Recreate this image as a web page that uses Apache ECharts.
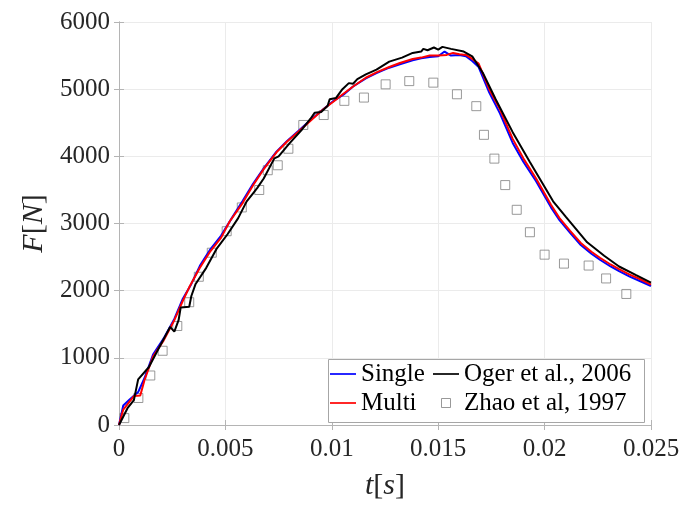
<!DOCTYPE html>
<html>
<head>
<meta charset="utf-8">
<script src="https://cdn.jsdelivr.net/npm/echarts@6/dist/echarts.min.js"></script>
<style>html,body{margin:0;padding:0;background:#fff}#c{width:688px;height:506px}</style>
</head>
<body>
<div id="c"></div>
<script>
var xTickLabels = ['0', '0.005', '0.01', '0.015', '0.02', '0.025'];
var yTickLabels = ['0', '1000', '2000', '3000', '4000', '5000', '6000'];

var singleT = [0, 0.0002, 0.0005, 0.0009, 0.0012, 0.0016, 0.0021, 0.0026, 0.003, 0.0034, 0.0038, 0.0043, 0.0048, 0.0053, 0.0058, 0.0063, 0.0068, 0.0074, 0.0079, 0.0084, 0.009, 0.0096, 0.0101, 0.0106, 0.011, 0.0116, 0.0121, 0.0127, 0.0132, 0.0138, 0.0142, 0.0146, 0.015, 0.0153, 0.0156, 0.016, 0.0163, 0.0166, 0.0169, 0.0174, 0.0179, 0.0185, 0.019, 0.0196, 0.0203, 0.0207, 0.0212, 0.0217, 0.0222, 0.0226, 0.0231, 0.0235, 0.024, 0.0245, 0.025];
var singleF = [0, 290, 380, 490, 700, 1050, 1290, 1580, 1880, 2100, 2370, 2620, 2820, 3080, 3330, 3590, 3820, 4070, 4230, 4370, 4540, 4700, 4830, 4930, 5040, 5160, 5240, 5320, 5370, 5430, 5460, 5480, 5490, 5560, 5500, 5510, 5490, 5420, 5330, 4950, 4640, 4200, 3920, 3630, 3240, 3050, 2860, 2680, 2550, 2460, 2360, 2290, 2210, 2140, 2070];

var multiT = [0, 0.0002, 0.0007, 0.001, 0.0012, 0.0016, 0.0021, 0.0026, 0.003, 0.0033, 0.0038, 0.0043, 0.0048, 0.0052, 0.0058, 0.0063, 0.0068, 0.0074, 0.0079, 0.0084, 0.009, 0.0096, 0.0101, 0.0105, 0.011, 0.0116, 0.0121, 0.0127, 0.0132, 0.0138, 0.0142, 0.0146, 0.015, 0.0154, 0.0157, 0.016, 0.0163, 0.0166, 0.0169, 0.0174, 0.0179, 0.0185, 0.019, 0.0196, 0.0203, 0.0207, 0.0212, 0.0217, 0.0222, 0.0226, 0.0231, 0.0235, 0.024, 0.0245, 0.025];
var multiF = [0, 230, 430, 440, 670, 1020, 1260, 1560, 1850, 2050, 2340, 2590, 2790, 3030, 3300, 3570, 3810, 4060, 4220, 4360, 4530, 4700, 4820, 4920, 5040, 5170, 5250, 5330, 5390, 5450, 5470, 5500, 5500, 5510, 5540, 5520, 5510, 5450, 5380, 5000, 4700, 4260, 3970, 3670, 3280, 3080, 2890, 2710, 2580, 2490, 2390, 2320, 2240, 2170, 2090];

var ogerT = [0, 0.0004, 0.0007, 0.0009, 0.0014, 0.0019, 0.0024, 0.0026, 0.0028, 0.0029, 0.0033, 0.0034, 0.0036, 0.0041, 0.0046, 0.0051, 0.0056, 0.006, 0.0063, 0.0065, 0.0068, 0.0073, 0.0075, 0.008, 0.0086, 0.009, 0.0092, 0.0095, 0.0098, 0.0099, 0.0102, 0.0105, 0.0108, 0.011, 0.0112, 0.0116, 0.0121, 0.0127, 0.0133, 0.0138, 0.0142, 0.0143, 0.0145, 0.0148, 0.015, 0.0152, 0.0156, 0.0162, 0.0166, 0.0171, 0.0177, 0.0185, 0.0193, 0.0204, 0.021, 0.022, 0.0228, 0.0235, 0.0243, 0.025];
var ogerF = [0, 250, 370, 680, 860, 1160, 1460, 1390, 1560, 1750, 1760, 1920, 2100, 2340, 2630, 2840, 3080, 3330, 3450, 3530, 3670, 3970, 4000, 4190, 4400, 4560, 4650, 4660, 4750, 4850, 4870, 5000, 5090, 5080, 5150, 5220, 5290, 5410, 5470, 5540, 5560, 5600, 5580, 5620, 5590, 5630, 5600, 5560, 5490, 5240, 4850, 4360, 3920, 3330, 3100, 2720, 2520, 2360, 2230, 2120];

var zhaoT = [0.00025, 0.00091, 0.00147, 0.00205, 0.00274, 0.0033, 0.00375, 0.00436, 0.00506, 0.00577, 0.00659, 0.00699, 0.00746, 0.00796, 0.00866, 0.00962, 0.01059, 0.01151, 0.01253, 0.01364, 0.01477, 0.01588, 0.01679, 0.01715, 0.01764, 0.01815, 0.01869, 0.01931, 0.02, 0.02091, 0.02207, 0.02289, 0.02384];
var zhaoF = [103, 402, 737, 1105, 1474, 1828, 2207, 2565, 2885, 3239, 3499, 3793, 3867, 4113, 4467, 4615, 4826, 4875, 5072, 5120, 5097, 4924, 4747, 4320, 3966, 3572, 3204, 2870, 2536, 2403, 2374, 2182, 1951];

function pairs(t, f) { return t.map(function (v, i) { return [v, f[i]]; }); }

var FONT = 'Liberation Serif';
var chart = echarts.init(document.getElementById('c'), null, { renderer: 'canvas' });
var axisCol = '#b4b4b4';
var legendText = { fontFamily: FONT, fontSize: 25, color: '#000', lineHeight: 28 };
var lineIcon = 'path://M0,0 L52,0 L52,3.4 L0,3.4 Z';
var squareIcon = 'path://M0,0 L10,0 L10,10 L0,10 Z';

chart.setOption({
  animation: false,
  backgroundColor: '#fff',
  grid: { left: 119, right: 37, top: 22, bottom: 77, containLabel: false },
  xAxis: [{
    type: 'value', min: 0, max: 0.025, interval: 0.005,
    name: '{i|t}{n|[}{i|s}{n|]}', nameLocation: 'middle', nameGap: 46,
    nameTextStyle: { rich: {
      i: { fontFamily: FONT, fontStyle: 'italic', fontSize: 30, color: '#262626' },
      n: { fontFamily: FONT, fontSize: 30, color: '#262626' } } },
    axisLine: { show: true, lineStyle: { color: axisCol, width: 1 } },
    axisTick: { show: true, inside: true, length: 5, lineStyle: { color: axisCol } },
    axisLabel: { margin: 12, fontFamily: FONT, fontSize: 25, color: '#262626',
      formatter: function (v) { return xTickLabels[Math.round(v / 0.005)]; } },
    splitLine: { show: true, lineStyle: { color: '#ebebeb', width: 1 } }
  }, {
    type: 'value', min: 0, max: 0.025, interval: 0.005, position: 'top',
    axisLine: { show: true, lineStyle: { color: axisCol, width: 1 } },
    axisTick: { show: true, inside: true, length: 5, lineStyle: { color: axisCol } },
    axisLabel: { show: false }, splitLine: { show: false }
  }],
  yAxis: [{
    type: 'value', min: 0, max: 6000, interval: 1000,
    name: '{i|F}{n|[}{i|N}{n|]}', nameLocation: 'middle', nameGap: 66,
    nameTextStyle: { rich: {
      i: { fontFamily: FONT, fontStyle: 'italic', fontSize: 30, color: '#262626' },
      n: { fontFamily: FONT, fontSize: 30, color: '#262626' } } },
    axisLine: { show: true, lineStyle: { color: axisCol, width: 1 } },
    axisTick: { show: true, inside: true, length: 5, lineStyle: { color: axisCol } },
    axisLabel: { margin: 9, fontFamily: FONT, fontSize: 25, color: '#262626',
      padding: [0, 0, 4, 0],
      formatter: function (v) { return yTickLabels[Math.round(v / 1000)]; } },
    splitLine: { show: true, lineStyle: { color: '#ebebeb', width: 1 } }
  }, {
    type: 'value', min: 0, max: 6000, interval: 1000, position: 'right',
    axisLine: { show: true, lineStyle: { color: axisCol, width: 1 } },
    axisTick: { show: true, inside: true, length: 5, lineStyle: { color: axisCol } },
    axisLabel: { show: false }, splitLine: { show: false }
  }],
  graphic: [{
    type: 'rect', left: 328, top: 359, z: 5,
    shape: { width: 316, height: 63 },
    style: { fill: '#fff', stroke: '#a6a6a6', lineWidth: 1 }
  }],
  legend: [{
    orient: 'vertical', left: 330, top: 360, padding: 0, itemGap: 1,
    itemWidth: 26, itemHeight: 10, itemTextGap: 2, z: 10,
    textStyle: legendText,
    data: [{ name: 'Single', icon: lineIcon }, { name: 'Multi', icon: lineIcon }]
  }, {
    orient: 'vertical', left: 433, top: 360, padding: 0, itemGap: 1,
    itemWidth: 26, itemHeight: 9, itemTextGap: 2, z: 10,
    textStyle: legendText,
    data: [{ name: 'Oger et al., 2006', icon: lineIcon },
      { name: 'Zhao et al, 1997', icon: squareIcon,
        itemStyle: { color: '#fff', borderColor: '#808080', borderWidth: 1 } }]
  }],
  series: [{
    name: 'Zhao et al, 1997', type: 'scatter', data: pairs(zhaoT, zhaoF),
    symbol: 'rect', symbolSize: 9,
    itemStyle: { color: 'rgba(255,255,255,0)', borderColor: '#808080', borderWidth: 1 }
  }, {
    name: 'Single', type: 'line', data: pairs(singleT, singleF), symbol: 'none',
    lineStyle: { color: '#0000ff', width: 2 }, itemStyle: { color: '#0000ff' }
  }, {
    name: 'Multi', type: 'line', data: pairs(multiT, multiF), symbol: 'none',
    lineStyle: { color: '#ff0000', width: 2 }, itemStyle: { color: '#ff0000' }
  }, {
    name: 'Oger et al., 2006', type: 'line', data: pairs(ogerT, ogerF), symbol: 'none',
    lineStyle: { color: '#000000', width: 2 }, itemStyle: { color: '#000000' }
  }]
});
</script>
</body>
</html>
